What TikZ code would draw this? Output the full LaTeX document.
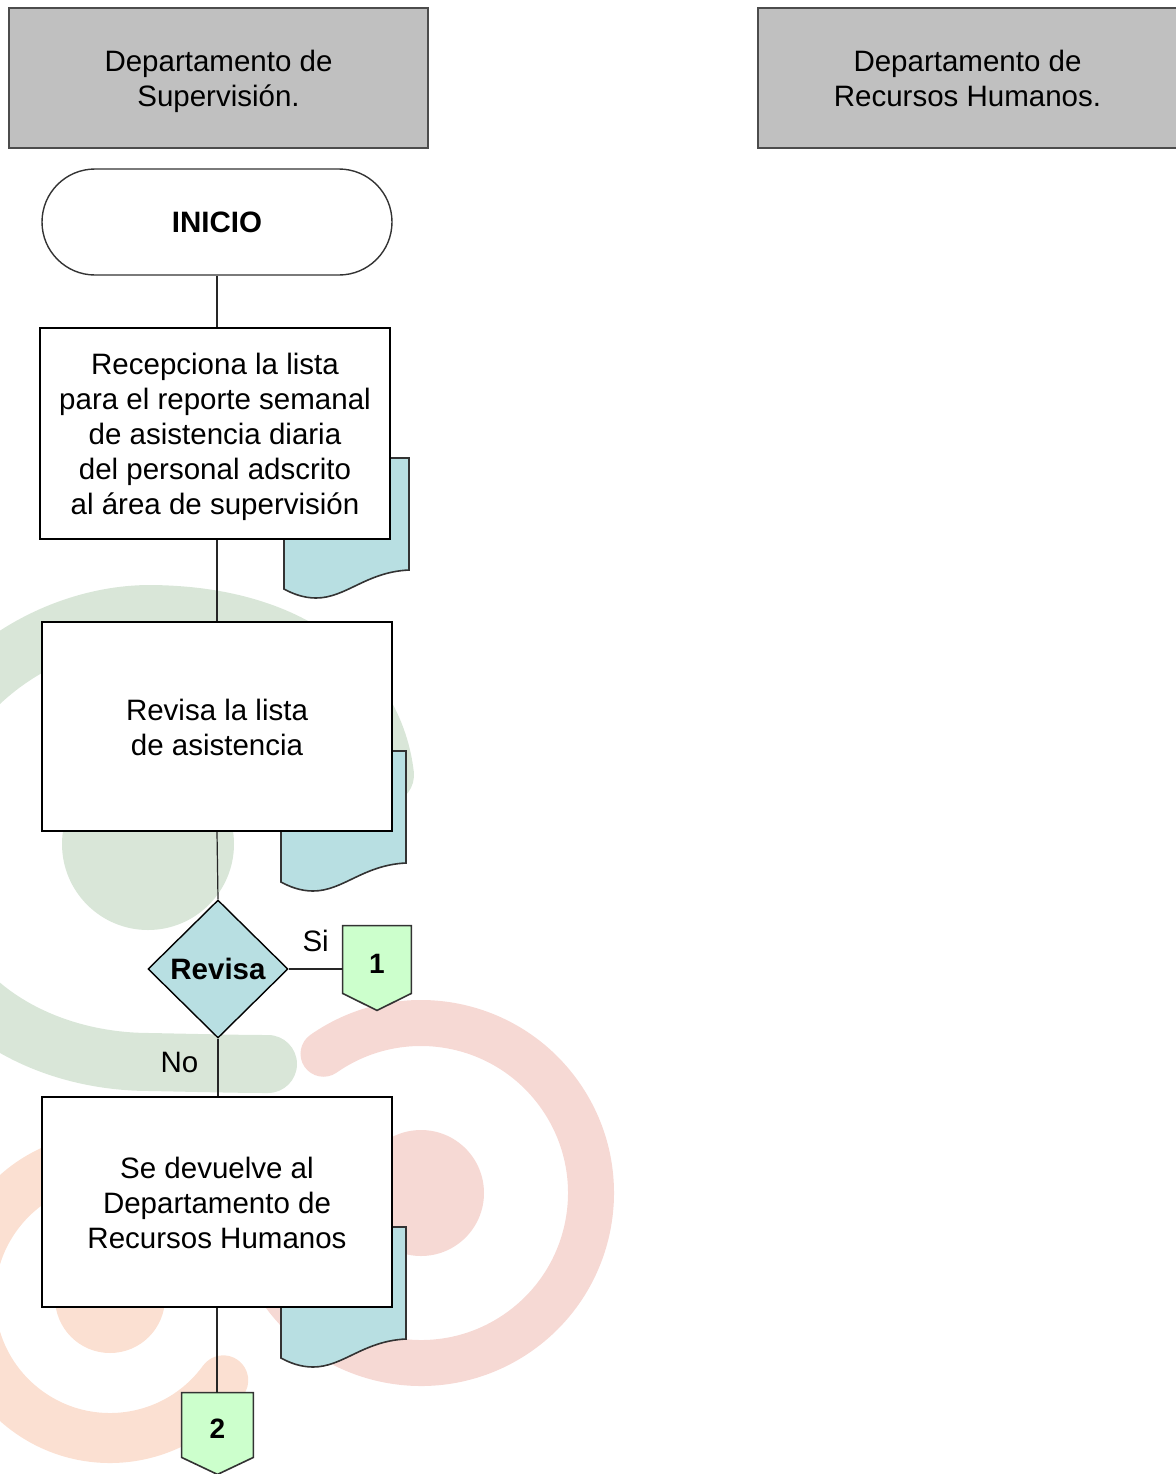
\documentclass[tikz,border=0pt]{standalone}
\usepackage{fontspec}
\setmainfont{Liberation Sans}
\usetikzlibrary{shapes.geometric,shapes.misc,calc}
\definecolor{hdrgray}{HTML}{C0C0C0}
\definecolor{docblue}{HTML}{B8DFE2}
\definecolor{conngreen}{HTML}{CCFFCC}
\definecolor{wmgreen}{HTML}{D9E6D8}
\definecolor{wmpink}{HTML}{F6D9D4}
\definecolor{wmorange}{HTML}{FBE0D2}
\pgfdeclarelayer{wm}
\pgfdeclarelayer{bg}
\pgfsetlayers{wm,bg,main}
\newcommand\mytopstrut{\rule{0pt}{15pt}}
\newcommand\mybotstrut{\rule[-4pt]{0pt}{4pt}}
\newcommand\mydocshape[2]{%
  \begin{scope}[shift={(#1,#2)}]
    \path[docstyle] (0,0) -- (125,0) -- (125,112)
      .. controls (82,114) and (62,140) .. (32,140)
      .. controls (20,140) and (9,136) .. (0,131) -- cycle;
  \end{scope}}
\begin{document}
\begin{tikzpicture}[x=0.5pt,y=-0.5pt,
  txt/.style={font=\fontsize{14.75pt}{17.5pt}\selectfont, align=center},
  hdr/.style={txt, draw=black!70, fill=hdrgray, line width=0.7pt,
    minimum width=209.5pt, minimum height=70pt, inner sep=0pt},
  procbox/.style={txt, draw=black, fill=white, line width=1pt,
    minimum width=175pt, inner sep=0pt},
  term/.style={align=center, font=\fontsize{14.75pt}{17.5pt}\selectfont\bfseries,
    draw=black!80, fill=white, rounded rectangle, minimum width=175pt,
    minimum height=53pt, inner sep=0pt, line width=0.7pt},
  decision/.style={align=center, font=\fontsize{14.75pt}{17.5pt}\selectfont\bfseries,
    diamond, draw=black, fill=docblue, minimum width=70pt, minimum height=69pt,
    inner sep=0pt, line width=0.7pt},
  offpage/.style={font=\fontsize{14pt}{16pt}\selectfont\bfseries,
    text height=13.8pt, text depth=0pt,
    minimum width=34pt, minimum height=33.5pt, inner sep=0pt},
  offshape/.style={draw=black!80, fill=conngreen, line width=0.8pt},
  docstyle/.style={draw=black!80, fill=docblue, line width=0.8pt},
  flow/.style={draw=black!85, line width=0.6pt},
  lbl/.style={txt, inner sep=0pt}
]
\useasboundingbox (0,0) rectangle (1176,1474);

% watermark
\begin{pgfonlayer}{wm}
  \fill[wmgreen] (148,844) circle[radius=86];
  \draw[wmgreen, line width=29pt, line cap=round]
    (385,775) .. controls (375,690) and (300,615) .. (150,614)
    .. controls (40,614) and (-90,700) .. (-90,845)
    .. controls (-90,990) and (30,1062) .. (150,1062)
    .. controls (200,1063) and (240,1064) .. (268,1064);
  \fill[wmpink] (421,1193) circle[radius=63];
  \draw[wmpink, line width=23pt, line cap=round]
    ($(421,1193)+(-125:170)$) arc[start angle=-125, end angle=200, radius=170];
  \fill[wmorange] (110,1298) circle[radius=55];
  \draw[wmorange, line width=25pt, line cap=round]
    ($(110,1298)+(36:140)$) arc[start angle=36, end angle=300, radius=140];
\end{pgfonlayer}

% nodes
\node[hdr] (hdrL) at (218.5,78) {\mytopstrut Departamento de\\Supervisión.\mybotstrut};
\node[hdr] (hdrR) at (967.5,78) {\mytopstrut Departamento de\\Recursos Humanos.\mybotstrut};
\node[term] (inicio) at (217,222) {INICIO};
\node[procbox, minimum height=105.5pt] (p1) at (215,433.5)
  {\mytopstrut Recepciona la lista\\para el reporte semanal\\de asistencia diaria\\del personal adscrito\\al área de supervisión\mybotstrut};
\node[procbox, minimum height=104.5pt] (p2) at (217,726.5)
  {\mytopstrut Revisa la lista\\de asistencia\mybotstrut};
\node[decision] (dec) at (218,969) {Revisa};
\node[offpage] (c1) at (377,959.5) {1};
\node[procbox, minimum height=105pt] (p3) at (217,1202)
  {\mytopstrut Se devuelve al\\Departamento de\\Recursos Humanos\mybotstrut};
\node[offpage, minimum width=35.5pt, minimum height=32pt] (c2) at (217.5,1425) {2};

% documents and off-page shapes
\begin{pgfonlayer}{bg}
  \mydocshape{284}{458}
  \mydocshape{281}{751}
  \mydocshape{281}{1227}
  \path[offshape] (c1.north west) -- (c1.north east) -- (c1.south east)
    -- ([yshift=-8.5pt]c1.south) -- (c1.south west) -- cycle;
  \path[offshape] (c2.north west) -- (c2.north east) -- (c2.south east)
    -- ([yshift=-8.5pt]c2.south) -- (c2.south west) -- cycle;
\end{pgfonlayer}

% connectors
\draw[flow] (inicio.south) -- (inicio.south |- p1.north);
\draw[flow] (p2.north |- p1.south) -- (p2.north);
\draw[flow] (p2.south) -- (dec.north);
\draw[flow] (dec.east) -- node[lbl, above=8.5pt] {Si} (dec.east -| c1.west);
\draw[flow] (dec.south) -- node[lbl, pos=0.41, left=9.5pt] {No} (dec.south |- p3.north);
\draw[flow] (p3.south) -- (p3.south |- c2.north);
\end{tikzpicture}
\end{document}
